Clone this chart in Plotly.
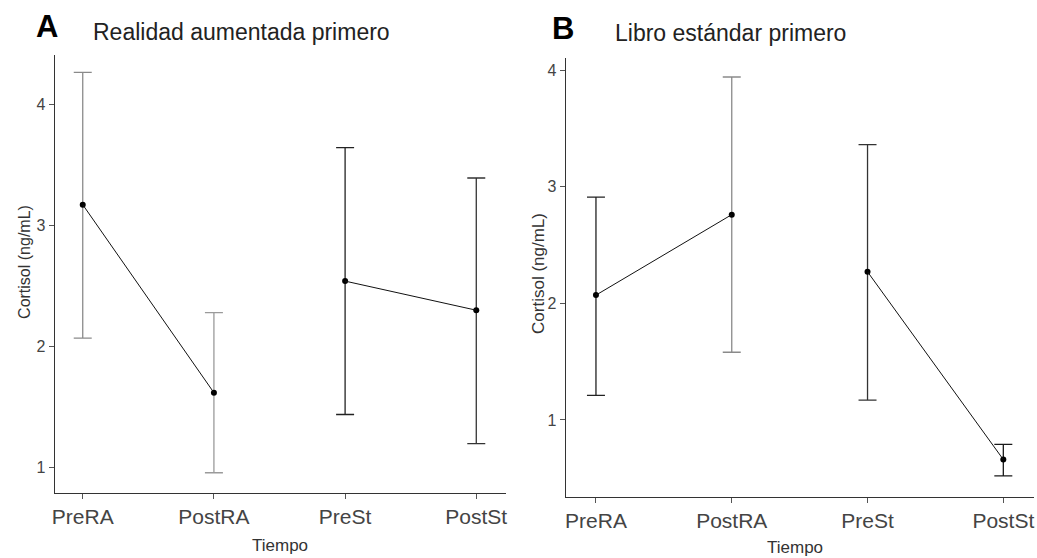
import plotly.graph_objects as go

categories = ["PreRA", "PostRA", "PreSt", "PostSt"]

# Panel A: Realidad aumentada primero
a_mean = [3.17, 1.62, 2.54, 2.30]
a_upper = [4.26, 2.28, 3.64, 3.39]
a_lower = [2.07, 0.96, 1.44, 1.20]

# Panel B: Libro estándar primero
b_mean = [2.07, 2.76, 2.27, 0.66]
b_upper = [2.91, 3.94, 3.36, 0.79]
b_lower = [1.21, 1.58, 1.17, 0.52]

a_bar_colors = ["#8a8a8a", "#9a9a9a", "#222222", "#333333"]
b_bar_colors = ["#222222", "#8a8a8a", "#333333", "#1a1a1a"]

W, H = 1037, 558
FONT = "Liberation Sans, Arial, sans-serif"


def px(x):
    return x / W


def py(y):
    return 1 - y / H


fig = go.Figure()

idx = list(range(len(categories)))


def add_panel(mean, upper, lower, colors, xa, ya):
    for i in idx:
        fig.add_trace(go.Scatter(
            x=[i], y=[mean[i]], mode="markers",
            marker=dict(color="black", size=6),
            error_y=dict(type="data", symmetric=False,
                         array=[upper[i] - mean[i]],
                         arrayminus=[mean[i] - lower[i]],
                         color=colors[i], thickness=1.3, width=9),
            xaxis=xa, yaxis=ya, showlegend=False, hoverinfo="skip"))
    # connecting segments: Pre->Post for each block
    xs = [0, 1, None, 2, 3]
    ys = [mean[0], mean[1], None, mean[2], mean[3]]
    fig.add_trace(go.Scatter(
        x=xs, y=ys, mode="lines", line=dict(color="#111111", width=1),
        xaxis=xa, yaxis=ya, showlegend=False, hoverinfo="skip",
        connectgaps=False))


add_panel(a_mean, a_upper, a_lower, a_bar_colors, "x", "y")
add_panel(b_mean, b_upper, b_lower, b_bar_colors, "x2", "y2")

axis_common = dict(
    showline=True, linecolor="#333333", linewidth=1.3,
    ticks="outside", ticklen=5, tickcolor="#555555", tickwidth=1,
    showgrid=False, zeroline=False, mirror=False,
)

fig.update_layout(
    width=W, height=H,
    margin=dict(l=0, r=0, t=0, b=0),
    paper_bgcolor="white", plot_bgcolor="white",
    font=dict(family=FONT, color="#333333"),
    xaxis=dict(domain=[px(52), px(505)], range=[-0.213, 3.227],
               tickvals=idx, ticktext=categories, anchor="y",
               tickfont=dict(size=21, color="#444444"), **axis_common),
    yaxis=dict(domain=[py(493), py(55)], range=[0.793, 4.404],
               tickvals=[1, 2, 3, 4], anchor="x",
               tickfont=dict(size=16, color="#444444"), **axis_common),
    xaxis2=dict(domain=[px(565), px(1035)], range=[-0.222, 3.226],
                tickvals=idx, ticktext=categories, anchor="y2",
                tickfont=dict(size=21, color="#444444"), **axis_common),
    yaxis2=dict(domain=[py(497), py(58)], range=[0.339, 4.103],
                tickvals=[1, 2, 3, 4], anchor="x2",
                tickfont=dict(size=16, color="#444444"), **axis_common),
)

annotations = [
    dict(text="<b>A</b>", x=px(31), y=py(27), xanchor="left", yanchor="middle",
         font=dict(size=31, color="black")),
    dict(text="Realidad aumentada primero", x=px(88), y=py(32), xanchor="left",
         yanchor="middle", font=dict(size=23, color="#222222")),
    dict(text="<b>B</b>", x=px(549), y=py(28), xanchor="left", yanchor="middle",
         font=dict(size=31, color="black")),
    dict(text="Libro estándar primero", x=px(612), y=py(33), xanchor="left",
         yanchor="middle", font=dict(size=23, color="#222222")),
    dict(text="Cortisol (ng/mL)", x=px(21), y=py(262), xanchor="center",
         yanchor="middle", textangle=-90, font=dict(size=16, color="#333333")),
    dict(text="Cortisol (ng/mL)", x=px(537), y=py(273), xanchor="center",
         yanchor="middle", textangle=-90, font=dict(size=17, color="#333333")),
    dict(text="Tiempo", x=px(278), y=py(545), xanchor="center",
         yanchor="middle", font=dict(size=17, color="#333333")),
    dict(text="Tiempo", x=px(795), y=py(547), xanchor="center",
         yanchor="middle", font=dict(size=17, color="#333333")),
]
for a in annotations:
    a.update(xref="paper", yref="paper", showarrow=False)
fig.update_layout(annotations=annotations)

fig.write_html("out.html")
